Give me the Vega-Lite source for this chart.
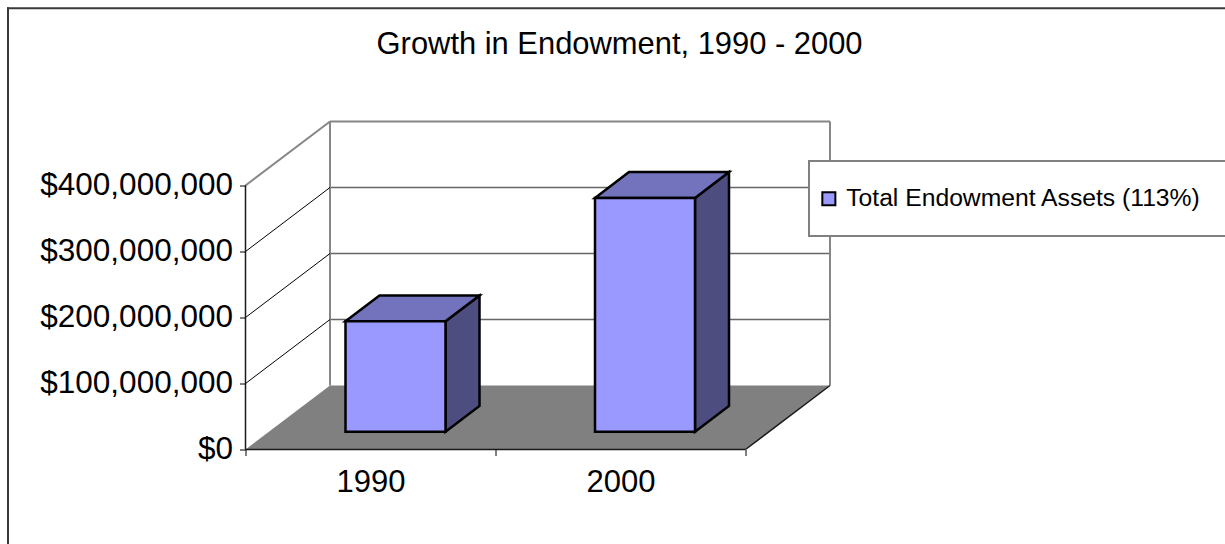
{
"$schema":"https://vega.github.io/schema/vega-lite/v6.json",
"width":585,"height":328,
"autosize":{"type":"none"},
"padding":{"left":245.5,"top":121.5,"right":394.5,"bottom":94.5},
"background":"white",
"config":{"view":{"stroke":null},"font":"Liberation Sans"},
"title":{"text":"Growth in Endowment, 1990 - 2000","font":"Liberation Sans","fontSize":30.9,"fontWeight":"normal","color":"#000000","anchor":"start","dx":370,"offset":-54},
"datasets":{
"frame":[{"x":-0.95,"y":668500000,"x2":3.92,"y2":668500000},{"x":-0.95,"y":668500000,"x2":-0.95,"y2":-146000000}],
"floor":[{"x":0,"x2":2,"y":0},{"x":0.338,"x2":2.338,"y":97000000}],
"backGrid":[{"x":0.338,"x2":2.338,"y":197000000,"y2":197000000},{"x":0.338,"x2":2.338,"y":297000000,"y2":297000000},{"x":0.338,"x2":2.338,"y":397000000,"y2":397000000}],
"walls":[{"x":0.338,"x2":2.338,"y":497000000,"y2":497000000},{"x":0.338,"x2":0.338,"y":97000000,"y2":497000000},{"x":2.338,"x2":2.338,"y":97000000,"y2":497000000},{"x":0,"x2":0.338,"y":400000000,"y2":497000000}],
"sideGrid":[{"x":0,"x2":0.338,"y":100000000,"y2":197000000},{"x":0,"x2":0.338,"y":200000000,"y2":297000000},{"x":0,"x2":0.338,"y":300000000,"y2":397000000}],
"axes":[{"x":0,"x2":0,"y":0,"y2":400000000},{"x":0,"x2":2,"y":0,"y2":0},{"x":2,"x2":2.338,"y":0,"y2":97000000}],
"side":[{"year":"1990","x":0.8,"y":27000000,"y2":194200000},{"year":"1990","x":0.936,"y":66000000,"y2":233200000},{"year":"2000","x":1.798,"y":27000000,"y2":381000000},{"year":"2000","x":1.934,"y":66000000,"y2":420400000}],
"top":[{"year":"1990","x":0.4,"x2":0.8,"y":194200000},{"year":"1990","x":0.536,"x2":0.936,"y":233200000},{"year":"2000","x":1.398,"x2":1.798,"y":381000000},{"year":"2000","x":1.534,"x2":1.934,"y":420400000}],
"front":[{"year":"1990","series":"Total Endowment Assets (113%)","x":0.4,"x2":0.8,"y":27000000,"y2":194200000},{"year":"2000","series":"Total Endowment Assets (113%)","x":1.398,"x2":1.798,"y":27000000,"y2":381000000}],
"legendBox":[{"x":2.254,"x2":3.94,"y":437000000,"y2":323500000}]
},
"encoding":{
"x":{"field":"x","type":"quantitative","title":null,"scale":{"domain":[0,2.34],"zero":false,"nice":false},
"axis":{"zindex":1,"values":[0,0.5,1,1.5,2],"domain":false,"grid":false,"tickColor":"#000000","tickSize":6,"tickWidth":1,"tickOpacity":{"expr":"datum.value%1==0?1:0"},"labelExpr":"datum.value==0.5?'1990':datum.value==1.5?'2000':''","labelFont":"Liberation Sans","labelFontSize":31,"labelColor":"#000000","labelPadding":12,"labelOverlap":false,"labelFlush":false}},
"y":{"field":"y","type":"quantitative","title":null,"scale":{"domain":[0,497000000],"zero":false,"nice":false},
"axis":{"zindex":1,"values":[0,100000000,200000000,300000000,400000000],"format":"$,.0f","domain":false,"grid":false,"tickColor":"#000000","tickSize":6,"tickWidth":1,"labelFont":"Liberation Sans","labelFontSize":31.5,"labelColor":"#000000","labelPadding":7,"labelLimit":400,"labelOverlap":false,"labelFlush":false}}
},
"layer":[
{"data":{"name":"frame"},"mark":{"type":"rule","color":"#3a3a3a","strokeWidth":2,"strokeCap":"square"},"encoding":{"x2":{"field":"x2"},"y2":{"field":"y2"}}},
{"data":{"name":"floor"},"mark":{"type":"area","orient":"horizontal","color":"#808080","opacity":1},"encoding":{"x2":{"field":"x2"}}},
{"data":{"name":"backGrid"},"mark":{"type":"rule","color":"#666666","strokeWidth":1.5},"encoding":{"x2":{"field":"x2"},"y2":{"field":"y2"}}},
{"data":{"name":"walls"},"mark":{"type":"rule","color":"#868686","strokeWidth":2},"encoding":{"x2":{"field":"x2"},"y2":{"field":"y2"}}},
{"data":{"name":"sideGrid"},"mark":{"type":"rule","color":"#000000","strokeWidth":1},"encoding":{"x2":{"field":"x2"},"y2":{"field":"y2"}}},
{"data":{"name":"axes"},"mark":{"type":"rule","color":"#1a1a1a","strokeWidth":1.5},"encoding":{"x2":{"field":"x2"},"y2":{"field":"y2"}}},
{"data":{"name":"side"},"mark":{"type":"area","orient":"vertical","fill":"#4D4D80","stroke":"#000000","strokeWidth":2.5,"opacity":1},"encoding":{"y2":{"field":"y2"},"detail":{"field":"year"}}},
{"data":{"name":"top"},"mark":{"type":"area","orient":"horizontal","fill":"#7373BD","stroke":"#000000","strokeWidth":2.5,"opacity":1},"encoding":{"x2":{"field":"x2"},"detail":{"field":"year"}}},
{"data":{"name":"front"},"mark":{"type":"rect","stroke":"#000000","strokeWidth":2.5,"opacity":1},"encoding":{"x2":{"field":"x2"},"y2":{"field":"y2"},
"color":{"field":"series","type":"nominal","scale":{"domain":["Total Endowment Assets (113%)"],"range":["#9999FF"]},
"legend":{"title":null,"orient":"none","legendX":571,"legendY":65,"symbolType":"square","symbolSize":170,"symbolStrokeColor":"#000000","symbolStrokeWidth":2,"symbolOpacity":1,"labelFont":"Liberation Sans","labelFontSize":24.7,"labelColor":"#000000","labelOffset":5,"labelLimit":500,"padding":0}}}},
{"data":{"name":"legendBox"},"mark":{"type":"rect","fill":"#ffffff","stroke":"#808080","strokeWidth":2},"encoding":{"x2":{"field":"x2"},"y2":{"field":"y2"}}}
]
}
